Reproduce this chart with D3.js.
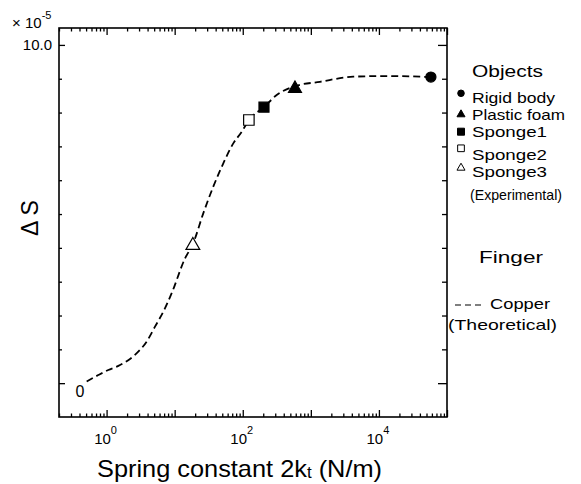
<!DOCTYPE html>
<html><head><meta charset="utf-8">
<script src="https://cdn.jsdelivr.net/npm/d3@7"></script>
<style>
html,body{margin:0;padding:0;background:#fff;}
svg{display:block;font-family:"Liberation Sans",Arial,Helvetica,sans-serif;}
</style></head><body>
<svg id="chart" width="581" height="484"></svg>
<script>
// ---------------- data ----------------
const objectNames = ["Rigid body", "Plastic foam", "Sponge1", "Sponge2", "Sponge3"];
const objectK  = [58000, 585, 205, 123, 18.5];        // spring constant 2kt (N/m)
const objectDS = [9.05, 8.71, 8.16, 7.78, 4.07];       // ΔS (x 10^-5)

const curveK  = [0.51, 0.755, 1.06, 1.49, 2.08, 2.92, 3.88, 5.14, 6.8, 9.04, 14.2, 18.5, 26.3, 36.9, 51.8, 72.6, 96.5, 123, 205, 315, 585, 1360, 4200, 13000, 58000];
const curveDS = [0.05, 0.24, 0.39, 0.51, 0.68, 0.93, 1.23, 1.67, 2.11, 2.66, 3.69, 4.11, 5.02, 5.81, 6.50, 7.09, 7.43, 7.78, 8.16, 8.52, 8.78, 8.91, 9.06, 9.08, 9.05];

const xLabelExponents = ["0", "2", "4"];
const yTickLabelText = ["0", "10.0"];
const yMultiplier = ["× 10", "-5"];
const legendTitles = ["Objects", "(Experimental)", "Finger", "Copper", "(Theoretical)"];
const xTitleParts = ["Spring constant 2k", "t", " (N/m)"];
const yTitle = "Δ S";

// ---------------- layout ----------------
const svg = d3.select("#chart");
const L = 59, R = 447, T = 28, B = 417;
const x = d3.scaleLog().domain([0.2, 1e5]).range([L, R]);
const y = d3.scaleLinear().domain([-1, 10.5]).range([B, T]);

const symbolTypes = [d3.symbolCircle, d3.symbolTriangle, d3.symbolSquare, d3.symbolSquare, d3.symbolTriangle];
const symbolFill  = ["#000", "#000", "#000", "#fff", "#fff"];
const symbolSize  = [80, 73, 100, 110, 82];
const legendSize  = [34, 28, 49, 45, 28];

// ---------------- axes ----------------
const allX = x.ticks();
const isMajor = v => Math.abs(Math.log10(v) - Math.round(Math.log10(v))) < 1e-9;
const xMajor = allX.filter(isMajor), xMinor = allX.filter(v => !isMajor(v));
const yVals = y.ticks(12).filter(v => v >= 0 && v <= 10);
const yMajor = yVals.filter(v => v === 0 || v === 10), yMinor = yVals.filter(v => v !== 0 && v !== 10);

function ax(gen, tr, vals, size) {
  const g = svg.append("g").attr("transform", tr)
    .call(gen.tickValues(vals).tickSize(size).tickFormat(""));
  g.select(".domain").remove();
  g.selectAll("line").attr("stroke", "#000").attr("stroke-width", 1.3);
  return g;
}
ax(d3.axisBottom(x), `translate(0,${B})`, xMinor, -3.5);
ax(d3.axisBottom(x), `translate(0,${B})`, xMajor, -7);
ax(d3.axisTop(x), `translate(0,${T})`, xMinor, -3.5);
ax(d3.axisTop(x), `translate(0,${T})`, xMajor, -7);
ax(d3.axisLeft(y), `translate(${L},0)`, yMinor, -3);
ax(d3.axisLeft(y), `translate(${L},0)`, yMajor, -6);
ax(d3.axisRight(y), `translate(${R},0)`, yMinor, -5);
ax(d3.axisRight(y), `translate(${R},0)`, yMajor, -9);

svg.append("rect").attr("x", L).attr("y", T).attr("width", R - L).attr("height", B - T)
  .attr("fill", "none").attr("stroke", "#000").attr("stroke-width", 1.6);

// x tick labels with superscripts
xLabelExponents.forEach(e => {
  const t = svg.append("text").attr("x", x(Math.pow(10, +e)) - 1).attr("y", 444)
    .attr("text-anchor", "middle").attr("font-size", 15);
  t.append("tspan").text("10");
  t.append("tspan").attr("dy", -10).attr("font-size", 11).text(e);
});

// y tick labels
svg.append("text").attr("x", 52).attr("y", y(10) + 5.5).attr("text-anchor", "end")
  .attr("font-size", 15).text(yTickLabelText[1]);
svg.append("text").attr("x", 80).attr("y", y(0) + 14).attr("text-anchor", "middle")
  .attr("font-size", 16).text(yTickLabelText[0]);

// multiplier
const mt = svg.append("text").attr("x", 12).attr("y", 28).attr("font-size", 15);
mt.append("tspan").text(yMultiplier[0]);
mt.append("tspan").attr("dy", -9).attr("font-size", 11).text(yMultiplier[1]);

// axis titles
const xt = svg.append("text").attr("x", 239.5).attr("y", 477).attr("text-anchor", "middle")
  .attr("font-size", 24).attr("textLength", 285).attr("lengthAdjust", "spacingAndGlyphs");
xt.append("tspan").text(xTitleParts[0]);
xt.append("tspan").attr("font-size", 16).attr("dy", 1).text(xTitleParts[1]);
xt.append("tspan").attr("dy", -1).text(xTitleParts[2]);

svg.append("text").attr("transform", "translate(38,218) rotate(-90)")
  .attr("text-anchor", "middle").attr("font-size", 23).text(yTitle);

// ---------------- curve ----------------
const line = d3.line().x(d => x(d[0])).y(d => y(d[1])).curve(d3.curveMonotoneX);
svg.append("path").datum(curveK.map((k, i) => [k, curveDS[i]]))
  .attr("d", line).attr("fill", "none").attr("stroke", "#000")
  .attr("stroke-width", 1.8).attr("stroke-dasharray", "7,4");

// ---------------- markers ----------------
svg.append("g").selectAll("path").data(objectNames).join("path")
  .attr("transform", (d, i) => `translate(${x(objectK[i])},${y(objectDS[i])})`)
  .attr("d", (d, i) => d3.symbol(symbolTypes[i], symbolSize[i])())
  .attr("fill", (d, i) => symbolFill[i]).attr("stroke", "#000").attr("stroke-width", 1.2);

// ---------------- legend ----------------
const lgMarkY = [93.3, 113.3, 131.7, 148.3, 166.7];
const lgTextY = [103, 120, 137, 160, 177];
const lgTextW = [83, 93, 75, 75, 75];
function triOffset(type, size) {
  if (type !== d3.symbolTriangle) return 0;
  const side = Math.sqrt(size * 4 / Math.sqrt(3));
  return side * Math.sqrt(3) / 2 / 6;
}
const lg = svg.append("g");
lg.append("text").attr("x", 472).attr("y", 77).attr("font-size", 17)
  .attr("textLength", 71).attr("lengthAdjust", "spacingAndGlyphs").text(legendTitles[0]);
objectNames.forEach((n, i) => {
  lg.append("path")
    .attr("transform", `translate(461,${lgMarkY[i] + triOffset(symbolTypes[i], legendSize[i])})`)
    .attr("d", d3.symbol(symbolTypes[i], legendSize[i])())
    .attr("fill", symbolFill[i]).attr("stroke", "#000").attr("stroke-width", 1);
  lg.append("text").attr("x", 472).attr("y", lgTextY[i]).attr("font-size", 15)
    .attr("textLength", lgTextW[i]).attr("lengthAdjust", "spacingAndGlyphs").text(n);
});
lg.append("text").attr("x", 470).attr("y", 200).attr("font-size", 15)
  .attr("textLength", 92).attr("lengthAdjust", "spacingAndGlyphs").text(legendTitles[1]);
lg.append("text").attr("x", 479).attr("y", 263).attr("font-size", 17)
  .attr("textLength", 64).attr("lengthAdjust", "spacingAndGlyphs").text(legendTitles[2]);
lg.append("line").attr("x1", 455).attr("x2", 482).attr("y1", 305).attr("y2", 305)
  .attr("stroke", "#000").attr("stroke-width", 1.2).attr("stroke-dasharray", "6,4");
lg.append("text").attr("x", 490).attr("y", 309).attr("font-size", 15)
  .attr("textLength", 60).attr("lengthAdjust", "spacingAndGlyphs").text(legendTitles[3]);
lg.append("text").attr("x", 448).attr("y", 330).attr("font-size", 15)
  .attr("textLength", 109).attr("lengthAdjust", "spacingAndGlyphs").text(legendTitles[4]);
</script>
</body></html>
